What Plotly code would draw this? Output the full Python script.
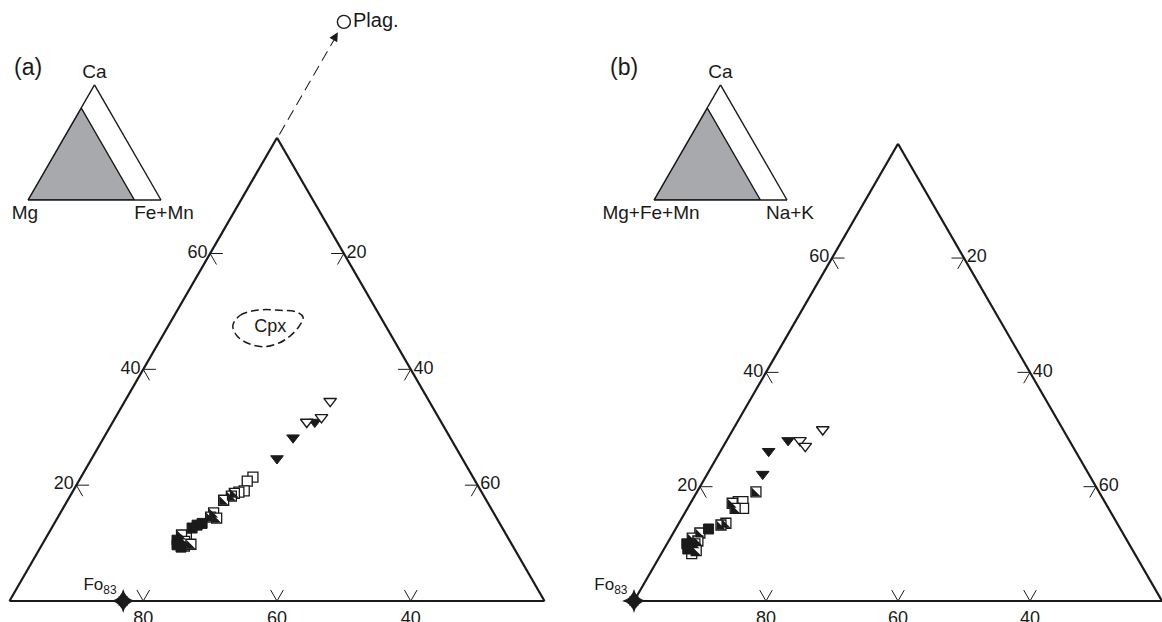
import math
import plotly.graph_objects as go

# ---------------- data (atomic %) ----------------
TOTAL = 100
VIEW_MIN = 20   # main diagrams show only the part with left-vertex component >= 20 %

ca_ticks = [20, 40, 60]      # left edge (Ca)
base_ticks = [40, 60, 80]    # bottom edge (Mg  /  Mg+Fe+Mn)
right_ticks = [20, 40, 60]   # right edge (Fe+Mn  /  Na+K)

# (a)  Ca - Mg - (Fe+Mn)
a_open_sq_ca = [21.4, 20.7, 19.0, 18.8, 10.9, 9.5]
a_open_sq_mg = [52.9, 54.1, 55.4, 56.3, 68.1, 69.1]
a_open_sq_fe = [25.7, 25.2, 25.6, 24.9, 21.0, 21.4]

a_half_sq_ca = [18.6, 18.1, 17.4, 15.2, 14.5, 14.3, 11.4, 10.3, 9.8]
a_half_sq_mg = [57.3, 58.0, 59.5, 62.1, 62.9, 62.1, 68.8, 68.9, 68.2]
a_half_sq_fe = [24.1, 23.9, 23.1, 22.7, 22.6, 23.6, 19.8, 20.8, 22.0]

a_full_sq_ca = [13.4, 13.1, 12.6, 10.5, 9.7, 9.3]
a_full_sq_mg = [64.5, 65.4, 66.4, 69.7, 70.1, 69.7]
a_full_sq_fe = [22.1, 21.5, 21.0, 19.8, 20.2, 21.0]

a_open_tri_ca = [34.5, 31.7, 30.9]
a_open_tri_mg = [34.8, 37.5, 40.1]
a_open_tri_fe = [30.7, 30.8, 29.0]

a_full_tri_ca = [30.9, 28.2, 24.6]
a_full_tri_mg = [38.9, 43.5, 47.7]
a_full_tri_fe = [30.2, 28.3, 27.7]

a_fo_ca, a_fo_mg, a_fo_fe = [0], [83], [17]
a_plag_ca, a_plag_mg, a_plag_fe = [100], [0], [0]
a_plag_arrow_ca = [80.6, 97.0]     # dashed tie line toward plagioclase (Fe+Mn = 0)
a_plag_head_ca = [98.2]

a_cpx_ca = [47.6, 49.3, 50.0, 50.3, 50.2, 49.9, 49.0, 47.6, 46.0, 44.6, 43.9, 44.5, 45.8, 47.6]
a_cpx_mg = [42.8, 40.9, 39.0, 36.9, 34.5, 32.1, 31.6, 32.8, 34.8, 37.3, 40.1, 42.1, 43.1, 42.8]
a_cpx_fe = [9.6, 9.8, 11.0, 12.8, 15.3, 18.0, 19.4, 19.6, 19.2, 18.1, 16.0, 13.4, 11.1, 9.6]
a_cpx_label_pos = [47.2, 37.4, 15.4]

# (b)  Ca - (Mg+Fe+Mn) - (Na+K)
b_open_sq_ca = [17.4, 17.4, 16.2, 8.3]
b_open_sq_mfm = [75.5, 74.8, 75.3, 87.1]
b_open_sq_nak = [7.1, 7.8, 8.5, 4.6]

b_half_sq_ca = [19.1, 17.1, 16.2, 13.6, 13.3, 11.9, 11.0, 10.5, 10.0, 8.8]
b_half_sq_mfm = [72.2, 76.8, 76.8, 79.5, 80.4, 84.3, 85.9, 85.3, 86.0, 86.4]
b_half_sq_nak = [8.7, 6.1, 7.0, 6.9, 6.3, 3.8, 3.1, 4.2, 4.0, 4.8]

b_full_sq_ca = [12.6, 10.0, 9.1]
b_full_sq_mfm = [82.4, 87.0, 87.3]
b_full_sq_nak = [5.0, 3.0, 3.6]

b_open_tri_ca = [30.0, 28.1, 27.1]
b_open_tri_mfm = [56.4, 60.8, 60.5]
b_open_tri_nak = [13.6, 11.1, 12.4]

b_full_tri_ca = [28.1, 26.2, 22.2]
b_full_tri_mfm = [62.6, 66.5, 69.4]
b_full_tri_nak = [9.3, 7.3, 8.4]

b_fo_ca, b_fo_mfm, b_fo_nak = [0], [100], [0]

# ---------------- layout geometry (px) ----------------
W, H = 1162, 622
SQ3 = math.sqrt(3)
INK = '#1a1a1a'
GREY = '#a7a9ac'
FONT = 'Liberation Sans, Arial, Helvetica, sans-serif'

A_GEO = (9.5, 601, 535)      # left x, bottom y, width of main triangle (a)
B_GEO = (634, 601, 528)      # main triangle (b)
IA_GEO = (28, 200, 133)      # inset (a)
IB_GEO = (654, 200, 133)     # inset (b)


def dom(left, bottom, width):
    h = width * SQ3 / 2
    x0 = max(0.0, left / W)
    x1 = min(1.0, (left + width) / W)
    y0 = max(0.0, 1 - bottom / H)
    y1 = min(1.0, 1 - (bottom - h) / H)
    return dict(x=[x0, x1], y=[y0, y1])


def main_axes(vmin):
    def ax(vals, mn=0):
        return dict(min=mn, tickmode='array', tickvals=vals, ticktext=[str(v) for v in vals],
                    ticks='', showgrid=False, showline=True, linewidth=2.2, linecolor=INK,
                    tickfont=dict(size=18, color=INK, family=FONT), title=dict(text=''))
    return dict(aaxis=ax(ca_ticks), baxis=ax(base_ticks, vmin), caxis=ax(right_ticks))


def inset_axes(ta, tb, tc):
    def ax(t):
        return dict(showticklabels=False, ticks='', showgrid=False, showline=True,
                    linewidth=1.4, linecolor=INK,
                    title=dict(text=t, font=dict(size=19, color=INK, family=FONT)))
    return dict(aaxis=ax(ta), baxis=ax(tb), caxis=ax(tc))


def hidden_axes():
    ax = dict(showticklabels=False, ticks='', showgrid=False, showline=False, title=dict(text=''))
    return dict(aaxis=ax, baxis=ax, caxis=ax)


def tick_marks(vmin, tlen=1.9):
    top = TOTAL - vmin
    a, b, c = [], [], []

    def seg(p, q):
        a.extend([p[0], q[0], None]); b.extend([p[1], q[1], None]); c.extend([p[2], q[2], None])
    for v in ca_ticks:            # left edge
        p = (v, TOTAL - v, 0)
        seg(p, (v, TOTAL - v - tlen, tlen))
        seg(p, (v - tlen, TOTAL - v, tlen))
    for v in base_ticks:          # bottom edge
        p = (0, v, TOTAL - v)
        seg(p, (tlen, v, TOTAL - v - tlen))
        seg(p, (tlen, v - tlen, TOTAL - v))
    for v in right_ticks:         # right edge
        p = (top - v, vmin, v)
        seg(p, (top - v, vmin + tlen, v - tlen))
        seg(p, (top - v - tlen, vmin + tlen, v))
    return a, b, c


fig = go.Figure()


def add_points(sub, a, b, c, kind):
    if kind == 'open_sq':
        fig.add_trace(go.Scatterternary(subplot=sub, a=a, b=b, c=c, mode='markers', cliponaxis=False,
                      marker=dict(symbol='square', size=10, color='white', line=dict(color=INK, width=1.3))))
    elif kind == 'full_sq':
        fig.add_trace(go.Scatterternary(subplot=sub, a=a, b=b, c=c, mode='markers', cliponaxis=False,
                      marker=dict(symbol='square', size=10, color=INK, line=dict(color=INK, width=1))))
    elif kind == 'half_sq':
        fig.add_trace(go.Scatterternary(subplot=sub, a=a, b=b, c=c, mode='markers', cliponaxis=False,
                      marker=dict(symbol='square', size=10, color='white', angle=270, standoff=1.5,
                                  line=dict(color=INK, width=1.3))))
        fig.add_trace(go.Scatterternary(subplot=sub, a=a, b=b, c=c, mode='markers', cliponaxis=False,
                      marker=dict(symbol='triangle-sw', size=10, color=INK, standoff=1.5,
                                  line=dict(width=0))))
    elif kind == 'open_tri':
        fig.add_trace(go.Scatterternary(subplot=sub, a=a, b=b, c=c, mode='markers', cliponaxis=False,
                      marker=dict(symbol='triangle-down', size=11, color='white', line=dict(color=INK, width=1.4))))
    elif kind == 'full_tri':
        fig.add_trace(go.Scatterternary(subplot=sub, a=a, b=b, c=c, mode='markers', cliponaxis=False,
                      marker=dict(symbol='triangle-down', size=11, color=INK, line=dict(color=INK, width=1))))


def add_star(sub, a, b, c):
    fig.add_trace(go.Scatterternary(subplot=sub, a=a, b=b, c=c, mode='markers', cliponaxis=False,
                  marker=dict(symbol='star-diamond', size=17, color=INK, line=dict(width=0))))
    fig.add_trace(go.Scatterternary(subplot=sub, a=a, b=b, c=c, mode='markers+text', cliponaxis=False,
                  text=['Fo<sub>83</sub>'], textposition='top left',
                  textfont=dict(size=17, color=INK, family=FONT),
                  marker=dict(symbol='star-square', size=9, color=INK, line=dict(width=0))))


# ---- panel (a) ----
ta, tb, tc = tick_marks(VIEW_MIN)
fig.add_trace(go.Scatterternary(subplot='ternary', a=ta, b=tb, c=tc, mode='lines',
                                line=dict(color=INK, width=1), connectgaps=False))
fig.add_trace(go.Scatterternary(subplot='ternary', a=a_cpx_ca, b=a_cpx_mg, c=a_cpx_fe, mode='lines',
                                line=dict(color=INK, width=1.5, dash='8px,4px', shape='spline')))
fig.add_trace(go.Scatterternary(subplot='ternary', a=[a_cpx_label_pos[0]], b=[a_cpx_label_pos[1]],
                                c=[a_cpx_label_pos[2]], mode='text', text=['Cpx'],
                                textfont=dict(size=18, color=INK, family=FONT)))
add_points('ternary', a_open_sq_ca, a_open_sq_mg, a_open_sq_fe, 'open_sq')
add_points('ternary', a_half_sq_ca, a_half_sq_mg, a_half_sq_fe, 'half_sq')
add_points('ternary', a_full_sq_ca, a_full_sq_mg, a_full_sq_fe, 'full_sq')
add_points('ternary', a_full_tri_ca, a_full_tri_mg, a_full_tri_fe, 'full_tri')
add_points('ternary', a_open_tri_ca, a_open_tri_mg, a_open_tri_fe, 'open_tri')
add_star('ternary', a_fo_ca, a_fo_mg, a_fo_fe)

# plagioclase arrow (full-range overlay aligned with panel a)
fig.add_trace(go.Scatterternary(subplot='ternary5', a=a_plag_arrow_ca,
                                b=[TOTAL - v for v in a_plag_arrow_ca], c=[0] * len(a_plag_arrow_ca),
                                mode='lines', line=dict(color=INK, width=2, dash='11px,6px')))
fig.add_trace(go.Scatterternary(subplot='ternary5', a=a_plag_head_ca,
                                b=[TOTAL - v for v in a_plag_head_ca], c=[0], mode='markers',
                                cliponaxis=False,
                                marker=dict(symbol='arrow-up', size=9, angle=30, color=INK, line=dict(width=0))))
fig.add_trace(go.Scatterternary(subplot='ternary5', a=a_plag_ca, b=a_plag_mg, c=a_plag_fe,
                                mode='markers+text', cliponaxis=False, text=['Plag.'],
                                textposition='middle right',
                                textfont=dict(size=20, color=INK, family=FONT),
                                marker=dict(symbol='circle', size=13, color='white',
                                            line=dict(color=INK, width=1.4))))

# ---- panel (b) ----
fig.add_trace(go.Scatterternary(subplot='ternary2', a=ta, b=tb, c=tc, mode='lines',
                                line=dict(color=INK, width=1), connectgaps=False))
add_points('ternary2', b_open_sq_ca, b_open_sq_mfm, b_open_sq_nak, 'open_sq')
add_points('ternary2', b_half_sq_ca, b_half_sq_mfm, b_half_sq_nak, 'half_sq')
add_points('ternary2', b_full_sq_ca, b_full_sq_mfm, b_full_sq_nak, 'full_sq')
add_points('ternary2', b_full_tri_ca, b_full_tri_mfm, b_full_tri_nak, 'full_tri')
add_points('ternary2', b_open_tri_ca, b_open_tri_mfm, b_open_tri_nak, 'open_tri')
add_star('ternary2', b_fo_ca, b_fo_mfm, b_fo_nak)

# ---- insets: grey = region displayed in the main diagrams ----
grey_a = [0, TOTAL - VIEW_MIN, 0, 0]
grey_b = [TOTAL, VIEW_MIN, VIEW_MIN, TOTAL]
grey_c = [0, 0, TOTAL - VIEW_MIN, 0]
for sub in ('ternary3', 'ternary4'):
    fig.add_trace(go.Scatterternary(subplot=sub, a=grey_a, b=grey_b, c=grey_c, mode='lines',
                                    fill='toself', fillcolor=GREY, line=dict(color=INK, width=1.4)))

fig.update_layout(
    width=W, height=H, margin=dict(l=0, r=0, t=0, b=0),
    template='none', paper_bgcolor='white', showlegend=False,
    font=dict(family=FONT, size=18, color=INK),
    ternary=dict(domain=dom(*A_GEO), sum=TOTAL, bgcolor='white', **main_axes(VIEW_MIN)),
    ternary2=dict(domain=dom(*B_GEO), sum=TOTAL, bgcolor='white', **main_axes(VIEW_MIN)),
    ternary3=dict(domain=dom(*IA_GEO), sum=TOTAL, bgcolor='white', **inset_axes('Ca', 'Mg', 'Fe+Mn')),
    ternary4=dict(domain=dom(*IB_GEO), sum=TOTAL, bgcolor='white',
                  **inset_axes('Ca', 'Mg+Fe+Mn', 'Na+K')),
    ternary5=dict(domain=dom(A_GEO[0], A_GEO[1], A_GEO[2] * TOTAL / (TOTAL - VIEW_MIN)), sum=TOTAL,
                  bgcolor='rgba(0,0,0,0)', **hidden_axes()),
    annotations=[
        dict(text='(a)', x=28 / W, y=1 - 67 / H, xref='paper', yref='paper', showarrow=False,
             font=dict(size=23, color=INK, family=FONT), xanchor='center', yanchor='middle'),
        dict(text='(b)', x=624 / W, y=1 - 67 / H, xref='paper', yref='paper', showarrow=False,
             font=dict(size=23, color=INK, family=FONT), xanchor='center', yanchor='middle'),
    ],
)

fig.write_html('out.html')
